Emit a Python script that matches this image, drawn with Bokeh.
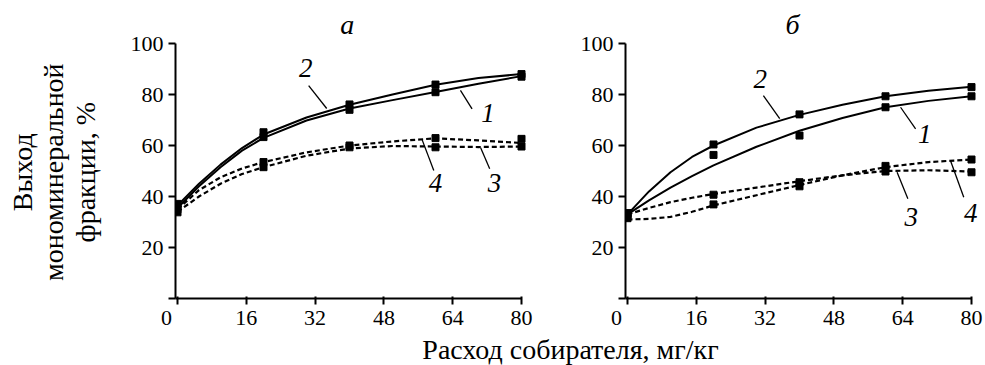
from math import pi
from bokeh.plotting import figure
from bokeh.layouts import row, column
from bokeh.models import Range1d, LinearAxis, FixedTicker, Label
from bokeh.embed import file_html
from bokeh.resources import INLINE

# ---------------- data ----------------
dose = [0, 20, 40, 60, 80]                      # collector dose, mg/kg (markers)
curve_x = [0, 5, 10, 15, 20, 30, 40, 50, 60, 70, 80]

# panel "а"
a1_pts = [36.0, 63.3, 74.0, 80.9, 87.0]
a2_pts = [37.1, 65.2, 76.1, 83.9, 88.0]
a3_pts = [33.8, 51.5, 59.3, 59.3, 59.6]
a4_pts = [35.0, 53.5, 60.0, 62.9, 62.6]
a1_curve = [35.5, 44.0, 51.5, 58.0, 63.0, 69.8, 74.5, 77.8, 81.0, 84.2, 87.2]
a2_curve = [36.5, 45.0, 52.5, 59.0, 64.3, 71.0, 76.0, 80.0, 83.8, 86.5, 88.0]
a3_curve = [34.0, 40.0, 45.0, 48.8, 51.5, 56.0, 58.8, 59.8, 59.6, 59.4, 59.6]
a4_curve = [35.0, 42.5, 47.5, 51.0, 53.5, 57.3, 60.0, 61.6, 62.8, 62.0, 61.0]

# panel "б"
b1_pts = [33.0, 56.3, 63.9, 75.0, 79.3]
b2_pts = [33.5, 60.4, 72.2, 79.3, 82.9]
b3_pts = [33.0, 40.7, 45.6, 49.8, 49.5]
b4_pts = [31.5, 36.9, 44.0, 52.0, 54.5]
b1_curve = [33.0, 38.5, 43.5, 48.0, 52.2, 59.5, 65.8, 70.8, 75.0, 77.5, 79.3]
b2_curve = [33.0, 42.0, 49.5, 55.5, 60.0, 67.0, 72.0, 76.0, 79.3, 81.5, 83.0]
b3_curve = [33.0, 35.5, 37.8, 39.5, 41.0, 43.5, 46.0, 48.3, 50.0, 50.3, 49.8]
b4_curve = [31.0, 31.2, 32.0, 34.0, 36.5, 40.5, 44.5, 48.3, 51.5, 53.5, 54.5]

x_ticks = [0, 16, 32, 48, 64, 80]
y_ticks = [0, 20, 40, 60, 80, 100]
panel_titles = ["а", "б"]
curve_names = ["1", "2", "3", "4"]
y_label_lines = ["Выход", "мономинеральной", "фракции, %"]
x_label = "Расход собирателя, мг/кг"

# leader lines and curve-number positions (data units of each panel)
a_lead_x0 = [65.8, 30.5, 70.5, 56.9]
a_lead_y0 = [81.6, 83.5, 59.1, 62.2]
a_lead_x1 = [68.5, 34.7, 72.6, 59.6]
a_lead_y1 = [74.4, 74.5, 50.9, 50.2]
b_lead_x0 = [63.5, 31.6, 62.7, 75.1]
b_lead_y0 = [75.0, 79.6, 49.5, 54.1]
b_lead_x1 = [67.0, 35.4, 65.2, 78.2]
b_lead_y1 = [66.5, 70.5, 39.1, 39.7]
a_num_x = [72.2, 29.8, 73.7, 60.0]
a_num_y = [69.1, 86.8, 41.6, 41.6]
b_num_x = [69.1, 30.9, 66.0, 79.8]
b_num_y = [60.8, 82.4, 28.6, 29.9]

# ---------------- layout (page pixels) ----------------
FONT = "Liberation Serif"
TOTAL_W = 984
PANEL_H = 333
XLAB_H = 32
YLAB_W = 105
SX, SY = 4.3, 2.55          # px per unit
Y0 = 298                    # page y of 0 %
FRAME_TOP = 10
BASE_FIX = 9                # renderer draws alphabetic baselines ~9px low


def panel(left, width, x0, frame_left, frame_right):
    """x0: page x of dose 0; frame_left/right: page x of the plotting frame."""
    p = figure(width=width, height=PANEL_H, output_backend="svg",
               toolbar_location=None, x_axis_type=None, y_axis_type=None,
               x_range=Range1d((frame_left - x0) / SX, (frame_right - x0) / SX),
               y_range=Range1d(0, (Y0 - FRAME_TOP) / SY),
               min_border_left=frame_left - left,
               min_border_right=left + width - frame_right,
               min_border_top=FRAME_TOP, min_border_bottom=PANEL_H - Y0)
    p.outline_line_color = None
    p.background_fill_color = "white"
    p.border_fill_color = "white"
    xs = (frame_left - x0) / SX
    ya = LinearAxis(ticker=FixedTicker(ticks=y_ticks), bounds=(0, 100),
                    major_label_overrides={0: ""})
    # the origin label sits a little left of its tick, as in the original
    xa = LinearAxis(ticker=FixedTicker(ticks=x_ticks), bounds=(xs, 80),
                    major_label_overrides={0: "0\u2007\u2007"})
    for ax in (ya, xa):
        ax.axis_line_width = 2
        ax.axis_line_color = "black"
        ax.major_tick_line_width = 2
        ax.major_tick_line_color = "black"
        ax.minor_tick_line_color = None
        ax.major_label_text_font = FONT
        ax.major_label_text_font_size = "22px"
        ax.major_label_text_color = "black"
    ya.major_tick_out, ya.major_tick_in, ya.major_label_standoff = 7, 0, 5
    xa.major_tick_out, xa.major_tick_in, xa.major_label_standoff = 6, 2, 0
    p.add_layout(ya, "left")
    p.add_layout(xa, "below")
    return p


def lab(p, x, y, text, size, italic=True, **kw):
    p.add_layout(Label(x=x, y=y, text=text, text_font=FONT, text_font_size=size,
                       text_font_style="italic" if italic else "normal",
                       text_color="black", text_align="center",
                       text_baseline="alphabetic", **kw))


solid = dict(line_color="black", line_width=2)
dashed = dict(line_color="black", line_width=2.2, line_dash="5 3")
mk = dict(marker="square", size=7, color="black")


def draw(p, curves, pts, lx0, ly0, lx1, ly1, nx, ny, title, tx):
    for i, (c, pt) in enumerate(zip(curves, pts)):
        p.line(curve_x, c, **(solid if i < 2 else dashed))
        p.scatter(dose, pt, **mk)
    p.segment(lx0, ly0, lx1, ly1, line_color="black", line_width=1.3)
    for n, x, y in zip(curve_names, nx, ny):
        lab(p, x, y + BASE_FIX / SY, n, "27px")
    lab(p, tx, (Y0 - 33 + BASE_FIX) / SY, title, "28px")


# y label figure (frame == canvas)
ylab = figure(width=YLAB_W, height=PANEL_H, output_backend="svg", toolbar_location=None,
              x_axis_type=None, y_axis_type=None,
              x_range=Range1d(0, YLAB_W), y_range=Range1d(0, PANEL_H),
              min_border_left=0, min_border_right=0, min_border_top=0, min_border_bottom=0)
ylab.outline_line_color = None
for line, bx in zip(y_label_lines, (31, 62, 94)):
    lab(ylab, bx - BASE_FIX, PANEL_H - 171 - 16, line, "28px", italic=False, angle=pi / 2)

# panel а : canvas 105..560, origin at page x 177
pa = panel(YLAB_W, 455, 177, 175, 540)
draw(pa, [a1_curve, a2_curve, a3_curve, a4_curve], [a1_pts, a2_pts, a3_pts, a4_pts],
     a_lead_x0, a_lead_y0, a_lead_x1, a_lead_y1, a_num_x, a_num_y, panel_titles[0], 39.5)

# panel б : canvas 560..984, origin at page x 627
pb = panel(560, TOTAL_W - 560, 627, 625, 982)
draw(pb, [b1_curve, b2_curve, b3_curve, b4_curve], [b1_pts, b2_pts, b3_pts, b4_pts],
     b_lead_x0, b_lead_y0, b_lead_x1, b_lead_y1, b_num_x, b_num_y, panel_titles[1], 38.4)

# x label figure (frame == canvas)
xlab = figure(width=TOTAL_W, height=XLAB_H, output_backend="svg", toolbar_location=None,
              x_axis_type=None, y_axis_type=None,
              x_range=Range1d(0, TOTAL_W), y_range=Range1d(0, XLAB_H),
              min_border_left=0, min_border_right=0, min_border_top=0, min_border_bottom=0)
xlab.outline_line_color = None
lab(xlab, 570, PANEL_H + XLAB_H - (358 - BASE_FIX), x_label, "28px", italic=False)

layout = column(row(ylab, pa, pb), xlab)
open("out.html", "w").write(file_html(layout, INLINE))
